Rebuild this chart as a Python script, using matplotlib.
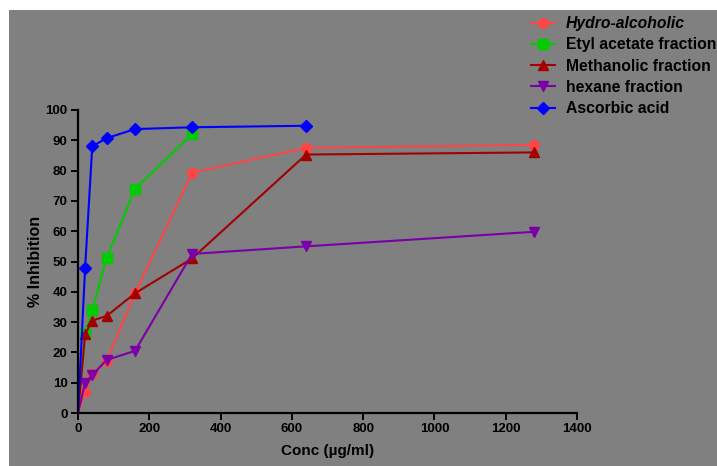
import matplotlib
matplotlib.use("Agg")
import matplotlib.pyplot as plt
from matplotlib.patches import Rectangle

plt.rcParams['font.family'] = ['Liberation Sans', 'DejaVu Sans']

conc = [0, 20, 40, 80, 160, 320, 640, 1280]
hydro = [0, 7, 13, 17, 39.5, 79.3, 87.5, 88.5]
ethyl = [0, 26.5, 34, 51, 74, 92]
methanolic = [0, 26, 30.5, 32, 39.5, 51, 85.3, 86]
hexane = [0, 10, 12.5, 17.5, 20.5, 52.5, 55, 59.8]
ascorbic = [0, 48, 88, 90.7, 93.7, 94.3, 94.8]

series = [
    ("Hydro-alcoholic", hydro, "#FF4545", "o", "italic"),
    ("Etyl acetate fraction", ethyl, "#00CC00", "s", "normal"),
    ("Methanolic fraction", methanolic, "#A50000", "^", "normal"),
    ("hexane fraction", hexane, "#7A00A8", "v", "normal"),
    ("Ascorbic acid", ascorbic, "#0000FF", "D", "normal"),
]

W, H = 717, 466
fig = plt.figure(figsize=(W / 100, H / 100), dpi=100)
fig.patch.set_facecolor("white")
fig.add_artist(Rectangle((9 / W, 0), 1 - 9 / W, 1 - 10 / H, transform=fig.transFigure,
                         facecolor="#808080", edgecolor="none", zorder=0))

ax = fig.add_axes([78 / W, (H - 413) / H, 499 / W, 303 / H])
ax.set_facecolor("none")

handles = []
for name, vals, col, mk, style in series:
    ms = 7 if mk != "D" else 6
    line, = ax.plot(conc[:len(vals)], vals, color=col, marker=mk, markersize=ms,
                    linewidth=1.5, markevery=list(range(1, len(vals))), clip_on=False,
                    label=name)
    handles.append(line)

ax.set_xlim(0, 1400)
ax.set_ylim(0, 100)
ax.set_xticks(range(0, 1401, 200))
ax.set_yticks(range(0, 101, 10))
for s in ["top", "right"]:
    ax.spines[s].set_visible(False)
for s in ["left", "bottom"]:
    ax.spines[s].set_linewidth(1.6)
    ax.spines[s].set_color("black")
ax.tick_params(direction="out", length=5, width=1.4, labelsize=9.5, pad=2.5)
for lab in ax.get_xticklabels() + ax.get_yticklabels():
    lab.set_fontweight("bold")
ax.set_xlabel("Conc (µg/ml)", fontsize=11, fontweight="bold", labelpad=6)
ax.set_ylabel("% Inhibition", fontsize=11.5, fontweight="bold", labelpad=2)

leg = fig.legend(handles=handles, loc="upper left", bbox_to_anchor=(531 / W, 1 - 16 / H),
                 frameon=False, fontsize=11.3, handlelength=1.5, handletextpad=0.7,
                 labelspacing=0.4, borderaxespad=0, borderpad=0)
for txt, (name, vals, col, mk, style) in zip(leg.get_texts(), series):
    txt.set_fontweight("bold")
    txt.set_fontstyle(style)

fig.savefig("out.png", dpi=100)
